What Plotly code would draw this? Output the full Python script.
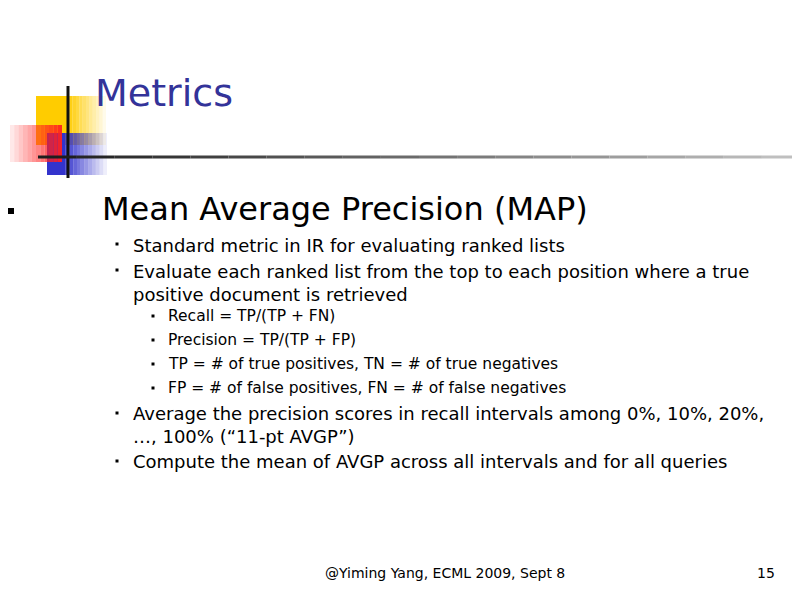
import plotly.graph_objects as go

title = "Metrics"
main_item = "Mean Average Precision (MAP)"
level1_a = ["Standard metric in IR for evaluating ranked lists",
            "Evaluate each ranked list from the top to each position where a true<br>positive document is retrieved"]
level2 = ["Recall = TP/(TP + FN)",
          "Precision = TP/(TP + FP)",
          "TP = # of true positives, TN = # of true negatives",
          "FP = # of false positives, FN = # of false negatives"]
level1_b = ["Average the precision scores in recall intervals among 0%, 10%, 20%,<br>…, 100% (“11-pt AVGP”)",
            "Compute the mean of AVGP across all intervals and for all queries"]
footer = "@Yiming Yang, ECML 2009, Sept 8"
page_no = "15"

FONT = "DejaVu Sans"
fig = go.Figure()
shapes = []
ann = []

def rect(x0, y0, x1, y1, color, op=1.0):
    shapes.append(dict(type="rect", x0=x0, y0=y0, x1=x1, y1=y1, fillcolor=color,
                       opacity=op, line_width=0, layer="below"))

# logo: faded squares built from strips
n = 12
for i in range(n):
    w = 40 / n
    rect(66 + i * w, 96, 66 + (i + 1) * w, 145, "#ffcc00", 1 - i / n)
rect(36, 96, 66, 145, "#ffcc00")
for i in range(n):
    w = 45 / n
    rect(62 + i * w, 133, 62 + (i + 1) * w, 175, "#3333cc", 1 - i / n)
rect(47, 133, 62, 175, "#3333cc")
for i in range(n):
    w = 52 / n
    rect(10 + i * w, 125, 10 + (i + 1) * w, 162, "#ff2020", 0.1 + 0.9 * i / n)
shapes.append(dict(type="line", x0=68, y0=86, x1=68, y1=178, line=dict(color="#111", width=3)))
for i in range(20):
    w = 762 / 20
    g = int(30 + 170 * i / 20)
    shapes.append(dict(type="line", x0=38 + i * w, y0=157, x1=38 + (i + 1) * w, y1=157,
                       line=dict(color=f"rgb({g},{g},{g})", width=3)))

def text(x, y, s, size, color="black", xanchor="left", yanchor="middle"):
    ann.append(dict(x=x, y=y, text=s, showarrow=False, xanchor=xanchor, yanchor=yanchor,
                    align="left", font=dict(family=FONT, size=size, color=color)))

def bullet(x, y, s):
    rect(x - s / 2, y - s / 2, x + s / 2, y + s / 2, "black")

text(93, 93, title, 38, "#333399")
bullet(11, 211, 6)
text(100, 209, main_item, 32)

y1 = [244, 270]
for y, s in zip(y1, level1_a):
    bullet(117, y, 3)
    text(131, y - 11, s, 18, yanchor="top")
y2 = [316, 340, 364, 388]
for y, s in zip(y2, level2):
    bullet(153, y, 3)
    text(166, y, s, 15.5)
y3 = [413, 461]
for y, s in zip(y3, level1_b):
    bullet(117, y, 3)
    text(131, y - 12, s, 18, yanchor="top")

text(445, 573, footer, 14, xanchor="center")
text(777, 573, page_no, 14, xanchor="right")

# range offset compensates for the page's 8px body margin
fig.update_layout(width=800, height=600, margin=dict(l=0, r=0, t=0, b=0),
                  plot_bgcolor="white", paper_bgcolor="white",
                  shapes=shapes, annotations=ann, showlegend=False,
                  xaxis=dict(range=[8, 808], visible=False, fixedrange=True),
                  yaxis=dict(range=[608, 8], visible=False, fixedrange=True))
fig.write_html("out.html")
